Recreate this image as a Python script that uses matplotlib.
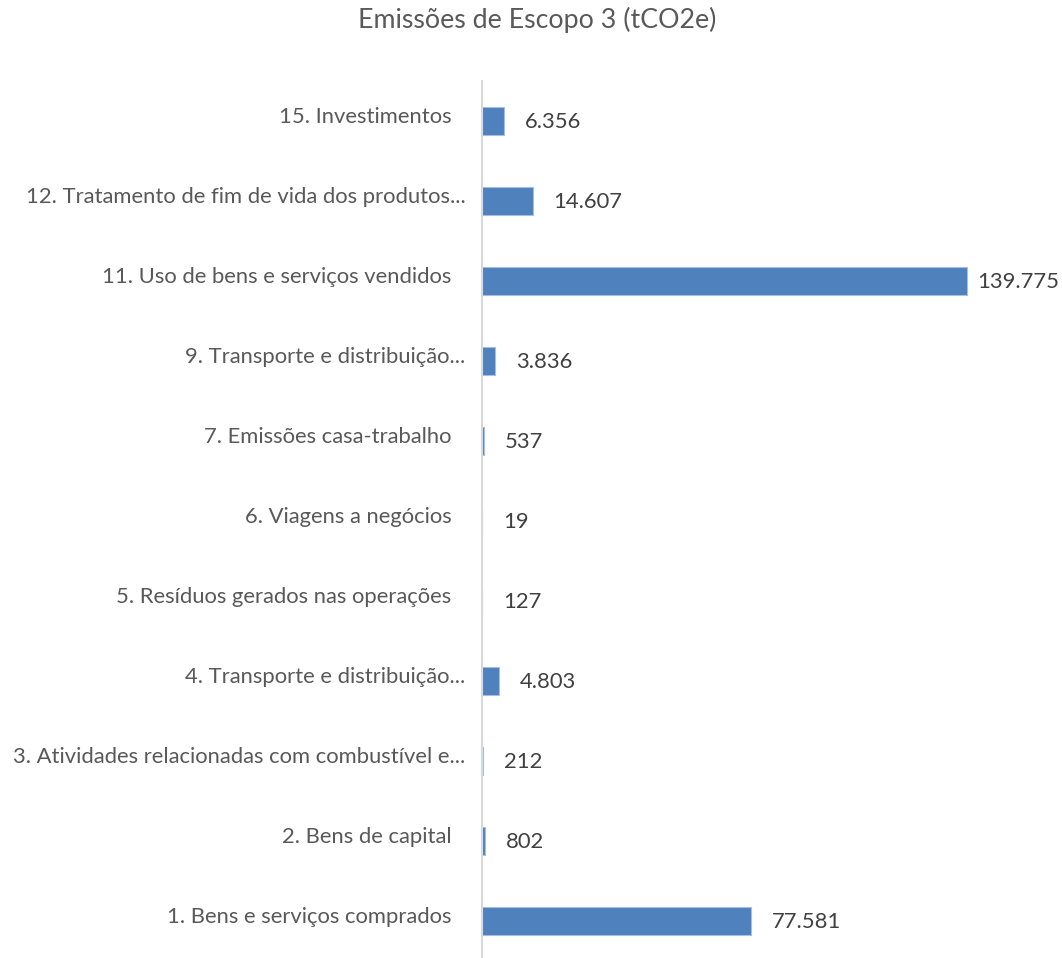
import matplotlib.pyplot as plt

plt.rcParams['font.family'] = ['Lato', 'DejaVu Sans']

categorias = [
    "1. Bens e serviços comprados",
    "2. Bens de capital",
    "3. Atividades relacionadas com combustível e...",
    "4. Transporte e distribuição...",
    "5. Resíduos gerados nas operações",
    "6. Viagens a negócios",
    "7. Emissões casa-trabalho",
    "9. Transporte e distribuição...",
    "11. Uso de bens e serviços vendidos",
    "12. Tratamento de fim de vida dos produtos...",
    "15. Investimentos",
]
emissoes = [77581, 802, 212, 4803, 127, 19, 537, 3836, 139775, 14607, 6356]
rotulos = ["77.581", "802", "212", "4.803", "127", "19", "537", "3.836",
           "139.775", "14.607", "6.356"]

fig = plt.figure(figsize=(10.62, 9.58), dpi=100)
ax = fig.add_axes([482 / 1062, 0.0, 520 / 1062, 1 - 81 / 958])

y = list(range(len(categorias)))
ax.barh(y, emissoes, height=0.34, color='#4F81BD', edgecolor='#A3BEE0', linewidth=0.8)

ax.set_xlim(0, 150000)
ax.set_ylim(-0.4625, 10.5)

for s in ['top', 'right', 'bottom']:
    ax.spines[s].set_visible(False)
ax.spines['left'].set_color('#D9D9D9')
ax.spines['left'].set_linewidth(1.5)
ax.set_xticks([])
ax.set_yticks([])

# category labels (truncated ones sit closer to the axis)
for i, nome in enumerate(categorias):
    pad = -12 if nome.endswith('...') else -22
    ax.annotate(nome, xy=(0, i), xycoords=('axes fraction', 'data'),
                xytext=(pad, 3), textcoords='offset points',
                ha='right', va='center', fontsize=15.8, color='#595959')

# value labels
for i, (v, r) in enumerate(zip(emissoes, rotulos)):
    off = 8 if v > 0.9 * max(emissoes) else 15
    ax.annotate(r, xy=(v, i), xytext=(off, -1), textcoords='offset points',
                ha='left', va='center', fontsize=15.8, color='#404040',
                annotation_clip=False)

fig.text(537 / 1062, 1 - 20 / 958, "Emissões de Escopo 3 (tCO2e)", ha='center',
         va='center', fontsize=19.3, color='#595959')

fig.savefig('out.png', dpi=100)
